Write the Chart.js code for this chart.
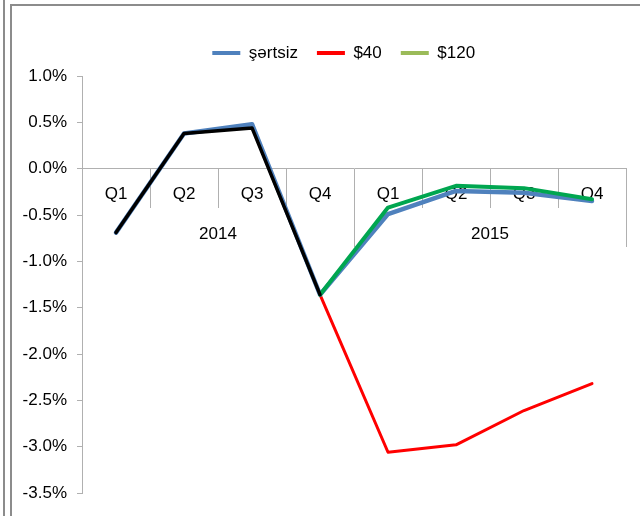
<!DOCTYPE html>
<html><head><meta charset="utf-8">
<script src="https://cdn.jsdelivr.net/npm/chart.js@4.4.1/dist/chart.umd.min.js"></script>
<style>
html,body{margin:0;padding:0;background:#fff;}
#wrap{position:relative;width:640px;height:516px;overflow:hidden;background:#fff;}
canvas{position:absolute;left:0;top:0;}
.ln{position:absolute;background:#8c8c8c;pointer-events:none;}
</style></head>
<body><div id="wrap">
<canvas id="c" width="640" height="516"></canvas>
<div class="ln" style="left:3px;top:0;width:2px;height:516px"></div>
<div class="ln" style="left:10px;top:4px;width:2px;height:512px"></div>
<div class="ln" style="left:10px;top:4px;width:630px;height:2px"></div>
</div>
<script>
// ---- data ----
const quarters = ['Q1', 'Q2', 'Q3', 'Q4', 'Q1', 'Q2', 'Q3', 'Q4'];
const years = ['2014', '2015'];
const seriesNames = ['şərtsiz', '$40', '$120'];
const actual  = [-0.69, 0.38, 0.44, -1.36, null, null, null, null];
const sertsiz = [-0.69, 0.38, 0.48, -1.36, -0.49, -0.24, -0.26, -0.35];
const oil40   = [null, null, null, -1.36, -3.06, -2.98, -2.61, -2.32];
const oil120  = [null, null, null, -1.36, -0.42, -0.185, -0.21, -0.33];
const yMin = -3.5, yMax = 1.0, yStep = 0.5;

// ---- style ----
const FONT = {family: "'Liberation Sans', Arial, sans-serif", size: 17};
const GRID = '#b0b0b0';
const legendColors = {1: '#4f81bd', 2: '#ff0000', 3: '#9bbb59'};

const legendGap = {
  id: 'legendGap',
  beforeLayout(chart) {
    const lg = chart.legend;
    if (lg && !lg._gapWrapped) {
      const fit = lg.fit.bind(lg);
      lg.fit = function () { fit(); this.height += 4.5; };
      lg._gapWrapped = true;
    }
  },
  afterLayout(chart) {
    const lg = chart.legend;
    if (lg) { lg.left += 61.4; }
  }
};

const lineDs = (label, data, color, width, order) => ({
  label, data, borderColor: color, backgroundColor: color, borderWidth: width,
  pointRadius: 0, pointHoverRadius: 0, tension: 0, spanGaps: false,
  borderJoinStyle: 'round', borderCapStyle: 'round', order
});

new Chart(document.getElementById('c'), {
  type: 'line',
  data: {
    labels: quarters,
    datasets: [
      lineDs('', actual, '#000000', 3.5, 0),
      lineDs(seriesNames[0], sertsiz, '#4f81bd', 4.5, 2),
      lineDs(seriesNames[1], oil40, '#ff0000', 3, 3),
      lineDs(seriesNames[2], oil120, '#00a650', 4, 1)
    ]
  },
  plugins: [legendGap],
  options: {
    responsive: false,
    devicePixelRatio: 1,
    animation: false,
    layout: {padding: {top: 25.5, left: 0, right: 14, bottom: 23}},
    plugins: {
      tooltip: {enabled: false},
      legend: {
        position: 'top',
        labels: {
          font: FONT, color: '#000', padding: 19,
          usePointStyle: true, pointStyle: 'line', pointStyleWidth: 28, boxHeight: 4,
          generateLabels(chart) {
            const items = Chart.defaults.plugins.legend.labels.generateLabels(chart);
            return items
              .filter(it => legendColors[it.datasetIndex])
              .sort((a, b) => a.datasetIndex - b.datasetIndex)
              .map(it => Object.assign(it, {
                strokeStyle: legendColors[it.datasetIndex],
                fillStyle: legendColors[it.datasetIndex],
                lineWidth: 4, pointStyle: 'line', fontColor: '#000'
              }));
          }
        }
      }
    },
    scales: {
      y: {
        type: 'linear', position: 'left',
        min: yMin, max: yMax,
        afterFit(scale) { scale.width = 82; },
        ticks: {stepSize: yStep, font: FONT, color: '#000', padding: 10,
          callback: v => v.toFixed(1) + '%'},
        grid: {drawOnChartArea: false, tickLength: 5, color: GRID},
        border: {color: GRID}
      },
      x: {
        type: 'category', position: {y: 0}, offset: true,
        grid: {offset: true, drawOnChartArea: false, tickLength: 39, color: GRID},
        border: {color: GRID},
        ticks: {font: FONT, color: '#000', padding: -24, maxRotation: 0, autoSkip: false}
      },
      x2: {
        type: 'category', position: {y: 0}, offset: true, labels: years,
        grid: {offset: true, drawOnChartArea: false, tickLength: 78, color: GRID},
        border: {display: false},
        ticks: {font: FONT, color: '#000', padding: -23, maxRotation: 0, autoSkip: false}
      }
    }
  }
});
</script>
</body></html>
